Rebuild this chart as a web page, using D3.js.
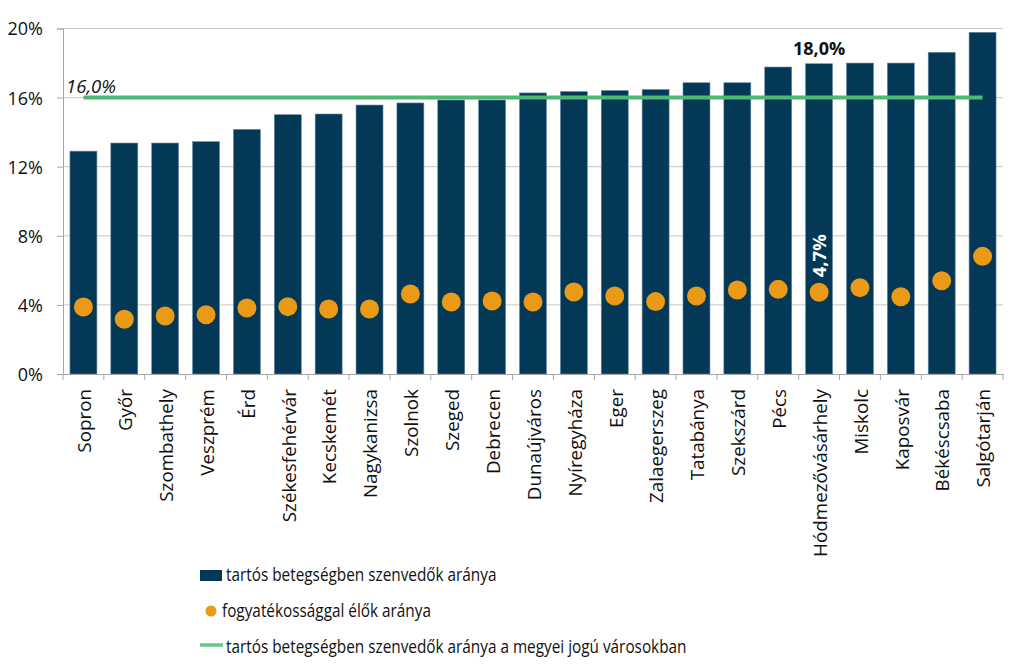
<!DOCTYPE html>
<html><head><meta charset="utf-8">
<script src="https://cdn.jsdelivr.net/npm/d3@7"></script>
<style>body{margin:0;background:#fff}svg{display:block}</style>
</head><body>
<svg id="c" width="1023" height="669"></svg>
<script>
const cities = ["Sopron","Győr","Szombathely","Veszprém","Érd","Székesfehérvár","Kecskemét","Nagykanizsa","Szolnok","Szeged","Debrecen","Dunaújváros","Nyíregyháza","Eger","Zalaegerszeg","Tatabánya","Szekszárd","Pécs","Hódmezővásárhely","Miskolc","Kaposvár","Békéscsaba","Salgótarján"];
const chronic = [12.9,13.37,13.37,13.45,14.16,15.01,15.05,15.57,15.69,15.86,15.86,16.27,16.35,16.41,16.47,16.86,16.86,17.77,17.96,18.0,18.0,18.62,19.78];
const disabled = [3.88,3.17,3.36,3.43,3.82,3.9,3.76,3.76,4.63,4.17,4.23,4.17,4.75,4.52,4.19,4.52,4.86,4.9,4.73,5.0,4.47,5.4,6.81];
const avgChronic = 16.0;
const yTicks = [0,4,8,12,16,20];
const legendLabels = ["tartós betegségben szenvedők aránya","fogyatékossággal élők aránya","tartós betegségben szenvedők aránya a megyei jogú városokban"];
const highlightCity = "Hódmezővásárhely";

const FONT = "'Open Sans', sans-serif";
const svg = d3.select("#c");
const L = 63, R = 1003, T = 28.5, B = 374;
const x = d3.scaleBand().domain(cities).range([L, R]).paddingInner(0.34).paddingOuter(0.17);
const y = d3.scaleLinear().domain([0, 20]).range([B, T]);
const fmt = v => (v.toFixed(1)).replace(".", ",") + "%";

function measure(str, size, weight) {
  const t = svg.append("text").attr("font-family", FONT).attr("font-size", size)
    .attr("font-weight", weight || "normal").text(str);
  const w = t.node().getComputedTextLength();
  t.remove();
  return w;
}
const xLabelSize = 20 * 168 / measure("Hódmezővásárhely", 20);
const legendSize = 17.5;
const legendScale = 461 / measure(legendLabels[2], legendSize);

// gridlines
svg.append("g").selectAll("line").data(yTicks.filter(d => d > 0)).join("line")
  .attr("x1", L).attr("x2", R).attr("y1", d => y(d)).attr("y2", d => y(d))
  .attr("stroke", "#c6c6c6").attr("stroke-width", 1);

// y axis
const yAxis = svg.append("g").attr("transform", `translate(${L},0)`)
  .call(d3.axisLeft(y).tickValues(yTicks).tickFormat(d => d + "%").tickSize(6).tickPadding(14));
yAxis.select(".domain").attr("stroke", "#a6a6a6");
yAxis.selectAll(".tick line").attr("stroke", "#a6a6a6");
yAxis.selectAll("text").attr("font-family", FONT).attr("font-size", 18).attr("fill", "#111").attr("dy", "0.36em");

// bars
svg.append("g").selectAll("rect").data(cities).join("rect")
  .attr("x", d => x(d)).attr("width", x.bandwidth())
  .attr("y", (d, i) => y(chronic[i])).attr("height", (d, i) => B - y(chronic[i]))
  .attr("fill", "#033856").attr("stroke", "#6a8aa3").attr("stroke-width", 0.6);

// x axis
const xAxis = svg.append("g").attr("transform", `translate(0,${B})`)
  .call(d3.axisBottom(x).tickSize(0).tickPadding(0));
xAxis.select(".domain").attr("stroke", "#a6a6a6");
xAxis.selectAll(".tick line").remove();
const bounds = cities.map((c, i) => L + i * (R - L) / cities.length).concat([R]);
xAxis.selectAll(".sep").data(bounds).join("line").attr("class", "sep")
  .attr("x1", d => d).attr("x2", d => d).attr("y1", 0).attr("y2", 6).attr("stroke", "#a6a6a6");
xAxis.selectAll(".tick text")
  .attr("font-family", FONT).attr("font-size", xLabelSize).attr("fill", "#111")
  .attr("transform", "rotate(-90)").attr("text-anchor", "end")
  .attr("x", -15).attr("y", 1).attr("dy", "0.36em");

// average line
svg.append("line")
  .attr("x1", x(cities[0]) + x.bandwidth() / 2).attr("x2", x(cities[cities.length - 1]) + x.bandwidth() / 2)
  .attr("y1", y(avgChronic)).attr("y2", y(avgChronic))
  .attr("stroke", "#4db872").attr("stroke-width", 4);
svg.append("text").attr("x", 66).attr("y", y(avgChronic) - 5)
  .attr("font-family", FONT).attr("font-size", 18.5).attr("font-style", "italic").attr("fill", "#111")
  .text(fmt(avgChronic));

// dots
svg.append("g").selectAll("circle").data(cities).join("circle")
  .attr("cx", d => x(d) + x.bandwidth() / 2).attr("cy", (d, i) => y(disabled[i]))
  .attr("r", 9.5).attr("fill", "#ea9a16");

// highlight labels
const hi = cities.indexOf(highlightCity);
const hx = x(highlightCity) + x.bandwidth() / 2;
svg.append("text").attr("x", hx).attr("y", y(chronic[hi]) - 9)
  .attr("text-anchor", "middle").attr("font-family", FONT).attr("font-size", 18).attr("font-weight", "bold").attr("fill", "#111")
  .text(fmt(chronic[hi]));
svg.append("text").attr("transform", `translate(${hx + 7},${y(disabled[hi]) - 15}) rotate(-90)`)
  .attr("text-anchor", "start").attr("font-family", FONT).attr("font-size", 18.5).attr("font-weight", "bold").attr("fill", "#fff")
  .text(fmt(disabled[hi]));

// legend
const lg = svg.append("g").attr("font-family", FONT).attr("font-size", legendSize).attr("fill", "#111");
lg.append("rect").attr("x", 200).attr("y", 570).attr("width", 22).attr("height", 11).attr("fill", "#033856");
lg.append("circle").attr("cx", 211).attr("cy", 611).attr("r", 5.5).attr("fill", "#ea9a16");
lg.append("line").attr("x1", 200).attr("x2", 223).attr("y1", 645).attr("y2", 645).attr("stroke", "#6cc48b").attr("stroke-width", 3.5);
lg.selectAll("text").data(legendLabels).join("text")
  .attr("transform", (d, i) => `translate(${i === 1 ? 222 : 226},${581 + i * 36}) scale(${legendScale},1)`)
  .text(d => d);
</script>
</body></html>
